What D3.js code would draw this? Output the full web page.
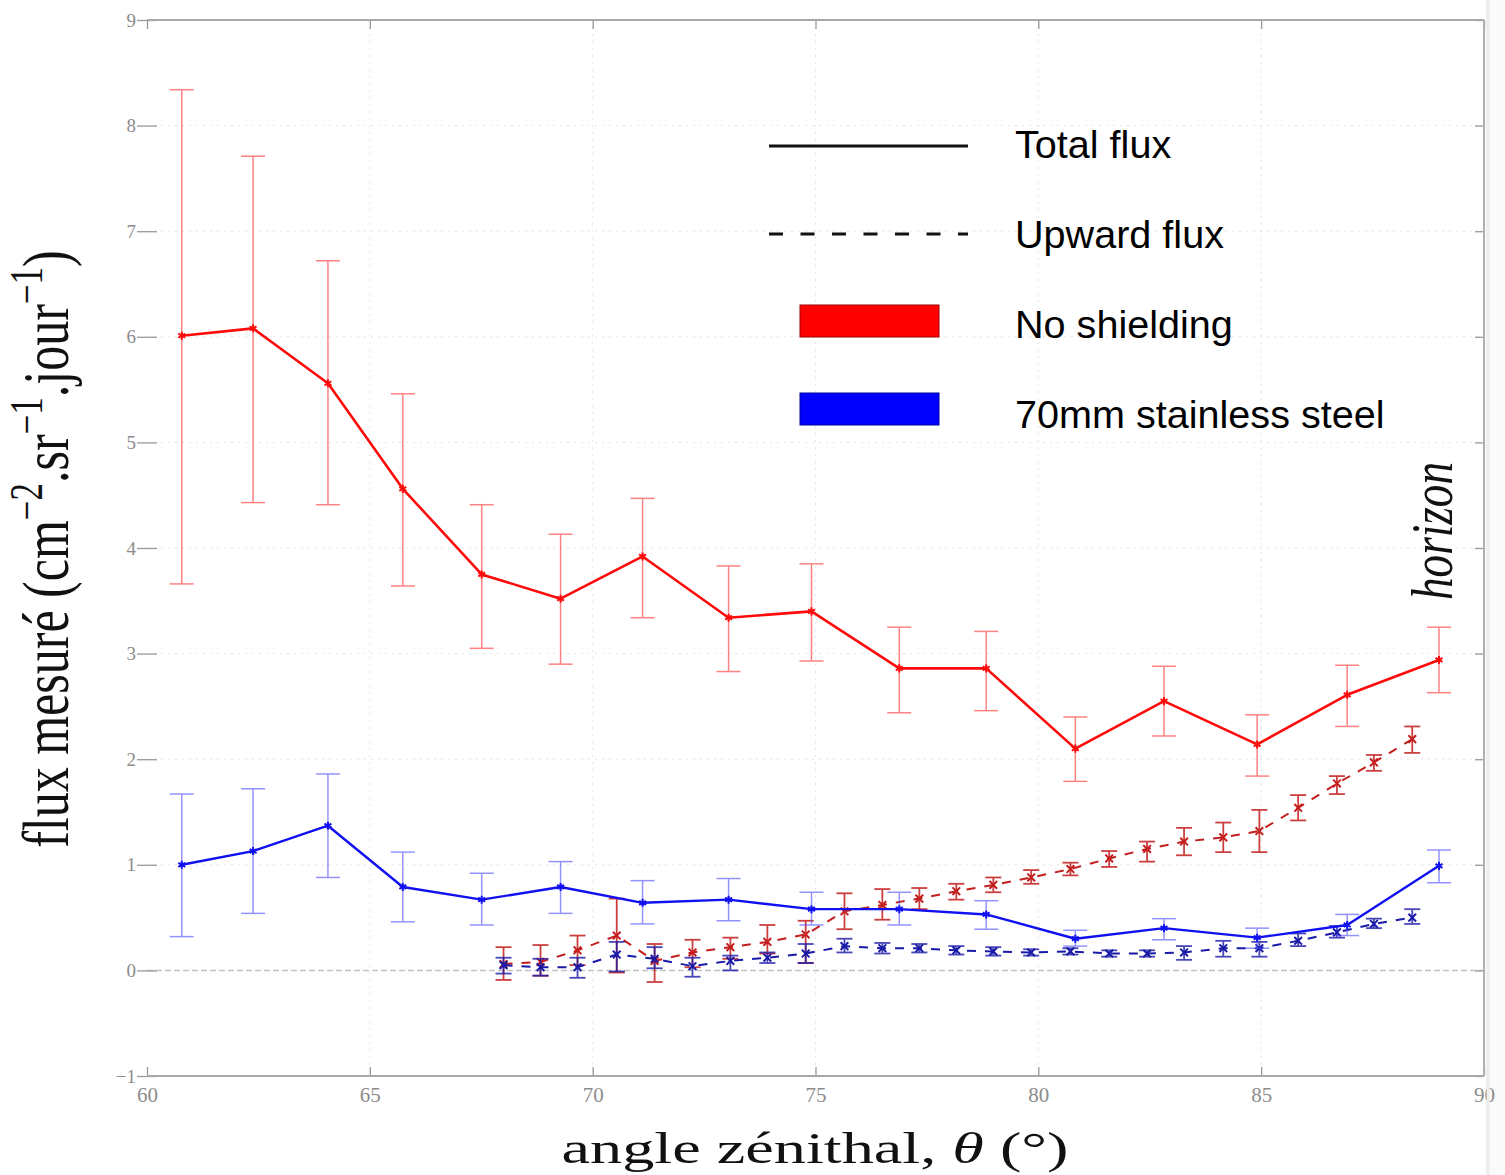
<!DOCTYPE html>
<html>
<head>
<meta charset="utf-8">
<script src="https://cdn.jsdelivr.net/npm/d3@7/dist/d3.min.js"></script>
<style>
  html, body { margin: 0; padding: 0; background: #ffffff; }
  svg { display: block; }
</style>
</head>
<body>
<script>
// ---------- DATA ----------
const xTicks = [60, 65, 70, 75, 80, 85, 90];
const yTicks = [-1, 0, 1, 2, 3, 4, 5, 6, 7, 8, 9];

// Total flux (bins)
const totalAngles = [60.78, 62.38, 64.06, 65.74, 67.51, 69.28, 71.12, 73.05, 74.91, 76.88, 78.83, 80.83, 82.82, 84.91, 86.93, 88.99];

const redTotal     = [6.01, 6.08, 5.56, 4.56, 3.75, 3.52, 3.92, 3.34, 3.40, 2.86, 2.86, 2.10, 2.55, 2.14, 2.61, 2.94];
const redTotalLow  = [3.66, 4.43, 4.41, 3.64, 3.05, 2.90, 3.34, 2.83, 2.93, 2.44, 2.46, 1.79, 2.22, 1.84, 2.31, 2.63];
const redTotalHigh = [8.34, 7.71, 6.72, 5.46, 4.41, 4.13, 4.47, 3.83, 3.85, 3.25, 3.21, 2.40, 2.88, 2.42, 2.89, 3.25];

const blueTotal     = [1.00, 1.13, 1.37, 0.79, 0.67, 0.79, 0.64, 0.67, 0.58, 0.58, 0.53, 0.30, 0.40, 0.31, 0.43, 0.99];
const blueTotalLow  = [0.32, 0.54, 0.88, 0.46, 0.43, 0.54, 0.44, 0.47, 0.43, 0.43, 0.39, 0.23, 0.29, 0.21, 0.33, 0.83];
const blueTotalHigh = [1.67, 1.72, 1.86, 1.12, 0.92, 1.03, 0.85, 0.87, 0.74, 0.74, 0.66, 0.38, 0.49, 0.40, 0.53, 1.14];

// Upward flux (finer bins)
const upAngles = [68.00, 68.83, 69.66, 70.54, 71.39, 72.24, 73.09, 73.92, 74.78, 75.65, 76.50, 77.33, 78.16, 78.99, 79.84, 80.72, 81.59, 82.44, 83.27, 84.15, 84.96, 85.83, 86.70, 87.53, 88.39];

const redUp     = [0.06, 0.08, 0.19, 0.33, 0.09, 0.17, 0.22, 0.27, 0.34, 0.56, 0.62, 0.68, 0.75, 0.81, 0.88, 0.96, 1.06, 1.15, 1.22, 1.26, 1.32, 1.54, 1.77, 1.97, 2.19];
const redUpLow  = [-0.09, -0.05, 0.05, -0.02, -0.11, 0.03, 0.11, 0.16, 0.07, 0.39, 0.48, 0.58, 0.67, 0.74, 0.82, 0.90, 0.98, 1.03, 1.09, 1.12, 1.12, 1.42, 1.67, 1.89, 2.06];
const redUpHigh = [0.22, 0.24, 0.33, 0.68, 0.25, 0.29, 0.31, 0.43, 0.47, 0.73, 0.77, 0.78, 0.82, 0.88, 0.95, 1.02, 1.13, 1.22, 1.35, 1.40, 1.52, 1.66, 1.84, 2.04, 2.31];

const blueUp     = [0.05, 0.03, 0.03, 0.15, 0.11, 0.04, 0.09, 0.12, 0.16, 0.23, 0.21, 0.21, 0.19, 0.18, 0.17, 0.18, 0.16, 0.16, 0.17, 0.21, 0.21, 0.28, 0.36, 0.44, 0.50];
const blueUpLow  = [-0.03, -0.05, -0.07, -0.01, 0.02, -0.06, 0.00, 0.07, 0.07, 0.17, 0.16, 0.17, 0.15, 0.14, 0.14, 0.15, 0.13, 0.13, 0.10, 0.13, 0.13, 0.23, 0.31, 0.40, 0.44];
const blueUpHigh = [0.12, 0.11, 0.12, 0.27, 0.22, 0.12, 0.14, 0.17, 0.25, 0.30, 0.26, 0.25, 0.23, 0.22, 0.20, 0.21, 0.19, 0.19, 0.23, 0.28, 0.27, 0.35, 0.42, 0.49, 0.58];

const legendLines = ["Total flux", "Upward flux"];
const legendGroups = ["No shielding", "70mm stainless steel"];

// ---------- SETUP ----------
const W = 1505, H = 1175;
const L = 147, R = 1484, T = 20, B = 1076;
const x = d3.scaleLinear().domain([60, 90]).range([L, R]);
const y = d3.scaleLinear().domain([-1, 9]).range([B, T]);

const svg = d3.select("body").append("svg").attr("width", W).attr("height", H);
svg.append("rect").attr("width", W).attr("height", H).attr("fill", "#fff");

// right-side faint shadow strip
svg.append("rect").attr("x", R + 1).attr("y", 0).attr("width", W - R - 1).attr("height", H).attr("fill", "#fafafa");

// grid
const grid = svg.append("g");
grid.selectAll("line.gx").data(xTicks.slice(1, -1)).join("line")
  .attr("x1", d => x(d)).attr("x2", d => x(d)).attr("y1", T).attr("y2", B)
  .attr("stroke", "#e4e4e4").attr("stroke-width", 1).attr("stroke-dasharray", "2,5");
grid.selectAll("line.gy").data(yTicks.filter(d => d !== -1 && d !== 9 && d !== 0)).join("line")
  .attr("x1", L).attr("x2", R).attr("y1", d => y(d)).attr("y2", d => y(d))
  .attr("stroke", "#e4e4e4").attr("stroke-width", 1).attr("stroke-dasharray", "2,5");
// zero line
svg.append("line").attr("x1", L).attr("x2", R).attr("y1", y(0)).attr("y2", y(0))
  .attr("stroke", "#c4c4c4").attr("stroke-width", 1.5).attr("stroke-dasharray", "6,3");

// axes via d3
const axisStyle = g => {
  g.select(".domain").remove();
  g.selectAll(".tick line").attr("stroke", "#9a9a9a").attr("stroke-width", 1.3);
  g.selectAll(".tick text").attr("fill", "#8c8c8c")
    .attr("font-family", "'Liberation Serif', 'DejaVu Serif', serif").attr("font-size", 21);
};
svg.append("g").attr("transform", `translate(0,${B})`)
  .call(d3.axisBottom(x).tickValues(xTicks).tickSize(-9).tickPadding(6).tickFormat(d3.format("d")))
  .call(axisStyle)
  .call(g => g.selectAll(".tick text").attr("dy", "0.95em"));
svg.append("g").attr("transform", `translate(0,${T})`)
  .call(d3.axisTop(x).tickValues(xTicks).tickSize(-9).tickFormat(""))
  .call(axisStyle);
svg.append("g").attr("transform", `translate(${L},0)`)
  .call(d3.axisLeft(y).tickValues(yTicks).tickSize(-10).tickPadding(10).tickFormat(d => d < 0 ? "−" + Math.abs(d) : d))
  .call(axisStyle)
  .call(g => g.selectAll(".tick line").attr("x1", -10).attr("x2", 10))
  .call(g => g.selectAll(".tick text").attr("x", -11).attr("font-size", 19));
svg.append("g").attr("transform", `translate(${R},0)`)
  .call(d3.axisRight(y).tickValues(yTicks).tickSize(-9).tickFormat(""))
  .call(axisStyle);

// frame lines (top, bottom, right)
svg.append("line").attr("x1", L).attr("x2", R).attr("y1", T).attr("y2", T).attr("stroke", "#a8a8a8").attr("stroke-width", 2);
svg.append("line").attr("x1", L).attr("x2", R).attr("y1", B).attr("y2", B).attr("stroke", "#a8a8a8").attr("stroke-width", 2);
svg.append("line").attr("x1", R).attr("x2", R).attr("y1", T).attr("y2", B).attr("stroke", "#b0b0b0").attr("stroke-width", 2);
svg.append("line").attr("x1", R + 4).attr("x2", R + 4).attr("y1", 0).attr("y2", H).attr("stroke", "#ececec").attr("stroke-width", 3);

// ---------- SERIES ----------
function drawSeries(angles, vals, lo, hi, opt) {
  const data = angles.map((a, i) => ({ a, v: vals[i], lo: lo[i], hi: hi[i] }));
  const g = svg.append("g");
  // error bars
  const eb = g.append("g").attr("stroke", opt.errColor).attr("stroke-width", opt.errWidth).attr("opacity", opt.errOpacity);
  eb.selectAll("line.v").data(data).join("line")
    .attr("x1", d => x(d.a)).attr("x2", d => x(d.a)).attr("y1", d => y(d.lo)).attr("y2", d => y(d.hi));
  eb.selectAll("line.t").data(data).join("line")
    .attr("x1", d => x(d.a) - opt.cap).attr("x2", d => x(d.a) + opt.cap).attr("y1", d => y(d.hi)).attr("y2", d => y(d.hi));
  eb.selectAll("line.b").data(data).join("line")
    .attr("x1", d => x(d.a) - opt.cap).attr("x2", d => x(d.a) + opt.cap).attr("y1", d => y(d.lo)).attr("y2", d => y(d.lo));
  // line
  const line = d3.line().x(d => x(d.a)).y(d => y(d.v));
  g.append("path").datum(data).attr("d", line).attr("fill", "none")
    .attr("stroke", opt.color).attr("stroke-width", opt.width)
    .attr("stroke-dasharray", opt.dash || null).attr("stroke-linejoin", "round");
  // markers
  const sym = d3.symbol().type(opt.symbol).size(opt.symSize);
  g.selectAll("path.m").data(data).join("path")
    .attr("transform", d => `translate(${x(d.a)},${y(d.v)})`)
    .attr("d", sym).attr("fill", opt.color).attr("stroke", opt.color).attr("stroke-width", 2);
}

drawSeries(upAngles, redUp, redUpLow, redUpHigh,
  { color: "#c41e1e", width: 2, dash: "9,9", errColor: "#c41e1e", errWidth: 1.8, errOpacity: 0.85, cap: 8, symbol: d3.symbolX, symSize: 40 });
drawSeries(upAngles, blueUp, blueUpLow, blueUpHigh,
  { color: "#1a1aa8", width: 2, dash: "9,9", errColor: "#1a1aa8", errWidth: 1.8, errOpacity: 0.8, cap: 8, symbol: d3.symbolX, symSize: 40 });
drawSeries(totalAngles, blueTotal, blueTotalLow, blueTotalHigh,
  { color: "#1010f0", width: 2.4, errColor: "#4d4dff", errWidth: 1.5, errOpacity: 0.6, cap: 12, symbol: d3.symbolAsterisk, symSize: 45 });
drawSeries(totalAngles, redTotal, redTotalLow, redTotalHigh,
  { color: "#ff0a0a", width: 2.6, errColor: "#ff3030", errWidth: 1.5, errOpacity: 0.6, cap: 12, symbol: d3.symbolAsterisk, symSize: 45 });

// ---------- LABELS ----------
const serif = "'Liberation Serif', 'DejaVu Serif', serif";
svg.append("text").attr("x", 815).attr("y", 1163).attr("text-anchor", "middle")
  .attr("font-family", serif).attr("font-size", 45).attr("fill", "#111")
  .attr("textLength", 507).attr("lengthAdjust", "spacingAndGlyphs")
  .call(t => {
    t.append("tspan").text("angle zénithal,  ");
    t.append("tspan").attr("font-style", "italic").text("θ");
    t.append("tspan").text(" (°)");
  });

const yl = svg.append("text").attr("text-anchor", "middle")
  .attr("transform", "translate(68,549) rotate(-90) scale(1,1.3)")
  .attr("font-family", serif).attr("font-size", 50).attr("fill", "#111");
yl.append("tspan").text("flux mesuré (cm");
yl.append("tspan").attr("font-size", 35).attr("dy", -20).text("−2");
yl.append("tspan").attr("dy", 20).text(".sr");
yl.append("tspan").attr("font-size", 35).attr("dy", -20).text("−1");
yl.append("tspan").attr("dy", 20).text(".jour");
yl.append("tspan").attr("font-size", 35).attr("dy", -20).text("−1");
yl.append("tspan").attr("dy", 20).text(")");

svg.append("text").attr("text-anchor", "middle")
  .attr("transform", "translate(1452,531) rotate(-90) scale(1,1.3)")
  .attr("font-family", serif).attr("font-style", "italic").attr("font-size", 45).attr("fill", "#111")
  .attr("textLength", 138).attr("lengthAdjust", "spacingAndGlyphs")
  .text("horizon");

// ---------- LEGEND ----------
const sans = "'Liberation Sans', Arial, sans-serif";
const lg = svg.append("g");
lg.append("line").attr("x1", 769).attr("x2", 968).attr("y1", 146).attr("y2", 146)
  .attr("stroke", "#111").attr("stroke-width", 3);
lg.append("line").attr("x1", 769).attr("x2", 968).attr("y1", 234).attr("y2", 234)
  .attr("stroke", "#111").attr("stroke-width", 3).attr("stroke-dasharray", "14,17.5");
lg.append("rect").attr("x", 800).attr("y", 305).attr("width", 139).attr("height", 32)
  .attr("fill", "#ff0000").attr("stroke", "#a00000").attr("stroke-width", 1);
lg.append("rect").attr("x", 800).attr("y", 393).attr("width", 139).attr("height", 32)
  .attr("fill", "#0000ff").attr("stroke", "#0000a0").attr("stroke-width", 1);
const legendTexts = legendLines.concat(legendGroups);
const legendBase = [158, 248, 338, 428];
lg.selectAll("text").data(legendTexts).join("text")
  .attr("x", 1015).attr("y", (d, i) => legendBase[i])
  .attr("font-family", sans).attr("font-size", 39.6).attr("fill", "#000")
  .text(d => d);
</script>
</body>
</html>
